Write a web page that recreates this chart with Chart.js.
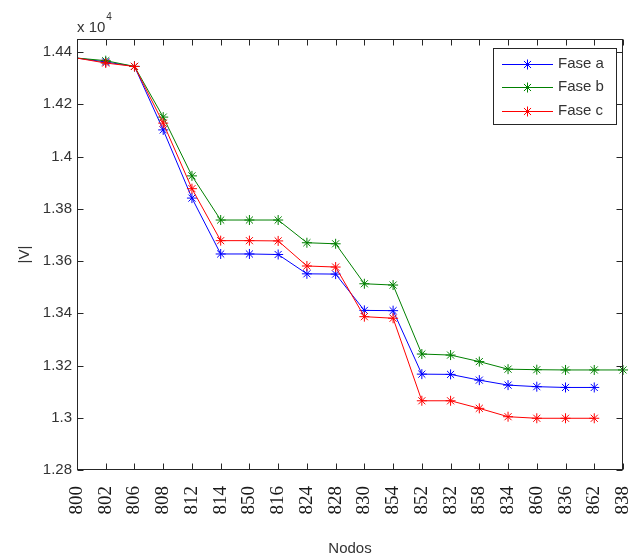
<!DOCTYPE html>
<html>
<head>
<meta charset="utf-8">
<script src="https://cdn.jsdelivr.net/npm/chart.js@4.4.1/dist/chart.umd.min.js"></script>
<style>
  html, body { margin: 0; padding: 0; background: #fff; }
  canvas { display: block; }
</style>
</head>
<body>
<canvas id="chart" width="640" height="558"></canvas>
<script>
// Node labels along the x axis
const nodos = ['800', '802', '806', '808', '812', '814', '850', '816', '824', '828',
               '830', '854', '852', '832', '858', '834', '860', '836', '862', '838'];

// Voltage magnitude per phase (V)
const faseA = [14377, 14362, 14345, 14102, 13841, 13627, 13627, 13625, 13551, 13550,
               13411, 13410, 13167, 13166, 13144, 13125, 13119, 13116, 13116, null];
const faseB = [14377, 14367, 14345, 14151, 13926, 13757, 13757, 13757, 13670, 13666,
               13513, 13508, 13244, 13240, 13215, 13186, 13184, 13183, 13183, 13183];
const faseC = [14377, 14358, 14345, 14128, 13877, 13678, 13678, 13677, 13581, 13577,
               13387, 13381, 13065, 13065, 13036, 13004, 12998, 12998, 12998, null];

// y axis (V); labels are shown scaled by 10^4
const yMin = 12800;
const yMax = 14450;
const yTicks = [12800, 13000, 13200, 13400, 13600, 13800, 14000, 14200, 14400];

const SANS = '"Liberation Sans", Arial, sans-serif';
const SERIF = '"Liberation Serif", "Times New Roman", serif';
const TEXT = '#333333';
const AXIS = '#262626';

const series = [
  { label: 'Fase a', data: faseA, color: '#0000ff', order: 2 },
  { label: 'Fase b', data: faseB, color: '#008000', order: 1 },
  { label: 'Fase c', data: faseC, color: '#ff0000', order: 0 }
];

// box around the axes with inward ticks, MATLAB style
const matlabAxes = {
  id: 'matlabAxes',
  afterDatasetsDraw(chart) {
    const { ctx, chartArea: a, scales } = chart;
    const L = Math.round(a.left) + 0.5, R = Math.round(a.right) - 0.5;
    const T = Math.round(a.top) + 0.5, B = Math.round(a.bottom) - 0.5;
    ctx.save();
    ctx.strokeStyle = AXIS;
    ctx.lineWidth = 1;
    ctx.strokeRect(L, T, R - L, B - T);
    const tl = 6;
    ctx.beginPath();
    scales.x.ticks.forEach((t, i) => {
      const x = Math.round(scales.x.getPixelForTick(i)) + 0.5;
      ctx.moveTo(x, B); ctx.lineTo(x, B - tl);
      ctx.moveTo(x, T); ctx.lineTo(x, T + tl);
    });
    scales.y.ticks.forEach(t => {
      const y = Math.round(scales.y.getPixelForValue(t.value)) + 0.5;
      ctx.moveTo(L, y); ctx.lineTo(L + tl, y);
      ctx.moveTo(R, y); ctx.lineTo(R - tl, y);
    });
    ctx.stroke();

    // exponent label
    ctx.fillStyle = TEXT;
    ctx.textBaseline = 'alphabetic';
    ctx.textAlign = 'left';
    ctx.font = '15px ' + SANS;
    ctx.fillText('x 10', a.left, 32);
    const w = ctx.measureText('x 10').width;
    ctx.font = '10px ' + SANS;
    ctx.fillText('4', a.left + w + 1, 20);
    ctx.restore();
  },
  afterDraw(chart) {
    // legend box in the top right corner
    const { ctx } = chart;
    const bx = 493, by = 48, bw = 123, bh = 76;
    ctx.save();
    ctx.fillStyle = '#fff';
    ctx.fillRect(bx, by, bw, bh);
    ctx.strokeStyle = AXIS;
    ctx.lineWidth = 1;
    ctx.strokeRect(bx + 0.5, by + 0.5, bw, bh);
    ctx.font = '15px ' + SANS;
    ctx.textBaseline = 'middle';
    ctx.textAlign = 'left';
    series.forEach((s, i) => {
      const y = by + 15.5 + i * 23.5;
      ctx.strokeStyle = s.color;
      ctx.beginPath();
      ctx.moveTo(bx + 9, Math.round(y) + 0.5);
      ctx.lineTo(bx + 60, Math.round(y) + 0.5);
      ctx.stroke();
      Chart.helpers.drawPoint(ctx, { pointStyle: 'star', radius: 5, borderWidth: 1 },
        bx + 34.5, Math.round(y) + 0.5);
      ctx.fillStyle = TEXT;
      ctx.fillText(s.label, bx + 65, y);
    });
    ctx.restore();
  }
};

new Chart(document.getElementById('chart'), {
  type: 'line',
  data: {
    labels: nodos,
    datasets: series.map(s => ({
      label: s.label,
      data: s.data,
      order: s.order,
      borderColor: s.color,
      backgroundColor: s.color,
      borderWidth: 1,
      pointStyle: 'star',
      pointRadius: ctx => ctx.dataIndex === 0 ? 0 : 5,
      pointBorderWidth: 1,
      pointBorderColor: s.color,
      tension: 0,
      clip: false,
      spanGaps: false
    }))
  },
  options: {
    responsive: false,
    animation: false,
    devicePixelRatio: 1,
    layout: { padding: { left: 0, top: 39, right: 17, bottom: 0 } },
    plugins: {
      legend: { display: false },
      tooltip: { enabled: false }
    },
    scales: {
      x: {
        type: 'category',
        offset: false,
        grid: { display: false, drawTicks: false },
        border: { display: false },
        afterFit: scale => {
          scale.height = 88;
          scale.paddingLeft = 0;
          scale.paddingRight = 0;
        },
        ticks: {
          autoSkip: false,
          maxRotation: 90,
          minRotation: 90,
          padding: 16,
          color: '#1a1a1a',
          font: { family: SERIF, size: 19 }
        },
        title: {
          display: true,
          text: 'Nodos',
          color: TEXT,
          padding: { top: 0, bottom: 0 },
          font: { family: SANS, size: 15 }
        }
      },
      y: {
        type: 'linear',
        min: yMin,
        max: yMax,
        grid: { display: false, drawTicks: false },
        border: { display: false },
        afterFit: scale => {
          scale.width = 77;
          scale.paddingTop = 0;
          scale.paddingBottom = 0;
        },
        afterBuildTicks: scale => {
          scale.ticks = yTicks.map(v => ({ value: v }));
        },
        ticks: {
          padding: 5,
          color: TEXT,
          font: { family: SANS, size: 15 },
          callback: v => String(+(v / 10000).toFixed(2))
        },
        title: {
          display: true,
          text: '|V|',
          color: TEXT,
          padding: { top: 16, bottom: 0 },
          font: { family: SANS, size: 15 }
        }
      }
    }
  },
  plugins: [matlabAxes]
});
</script>
</body>
</html>
